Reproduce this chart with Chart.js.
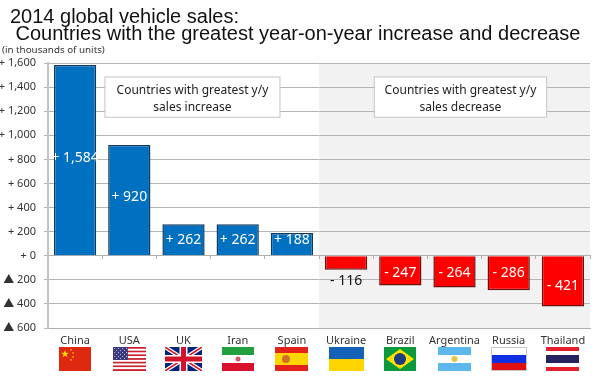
<!DOCTYPE html>
<html>
<head>
<meta charset="utf-8">
<title>2014 global vehicle sales</title>
<script src="https://cdn.jsdelivr.net/npm/chart.js@4/dist/chart.umd.min.js"></script>
<style>
  html, body { margin: 0; padding: 0; background: #fff; }
  canvas { display: block; }
</style>
</head>
<body>
<canvas id="salesChart" width="600" height="379"></canvas>
<script>
// --- Data ---
const countries = ["China", "USA", "UK", "Iran", "Spain", "Ukraine", "Brazil", "Argentina", "Russia", "Thailand"];
const salesChange = [1584, 920, 262, 262, 188, -116, -247, -264, -286, -421];
const valueLabels = ["+ 1,584", "+ 920", "+ 262", "+ 262", "+ 188", "- 116", "- 247", "- 264", "- 286", "- 421"];
const titleLines = ["2014 global vehicle sales:", " Countries with the greatest year-on-year increase and decrease"];
const unitNote = "(in thousands of units)";
const increaseNote = ["Countries with greatest y/y", "sales increase"];
const decreaseNote = ["Countries with greatest y/y", "sales decrease"];

const TICK_FONT = '"Noto Sans", "Noto Sans CJK JP", sans-serif';

// --- Flags ---
function stripes(ctx, x, y, w, h, colors, weights) {
    const total = weights.reduce((a, b) => a + b, 0);
    let top = y;
    colors.forEach((color, i) => {
        const sh = h * weights[i] / total;
        ctx.fillStyle = color;
        ctx.fillRect(x, top, w, sh);
        top += sh;
    });
}

function star(ctx, cx, cy, r) {
    ctx.beginPath();
    for (let i = 0; i < 10; i++) {
        const rad = i % 2 ? r * 0.4 : r;
        const a = -Math.PI / 2 + i * Math.PI / 5;
        ctx.lineTo(cx + rad * Math.cos(a), cy + rad * Math.sin(a));
    }
    ctx.closePath();
    ctx.fill();
}

// width of each flag image, they are not all the same in the picture
const flagWidth = { China: 32, USA: 33, UK: 37, Iran: 32, Spain: 33, Ukraine: 35, Brazil: 32, Argentina: 33, Russia: 36, Thailand: 33 };

const flagPainters = {
    China(ctx, x, y, w, h) {
        ctx.fillStyle = "#de2910";
        ctx.fillRect(x, y, w, h);
        ctx.fillStyle = "#ffde00";
        star(ctx, x + 6, y + 7, 4);
        [[12, 3], [14, 6], [14, 10], [12, 13]].forEach(p => star(ctx, x + p[0], y + p[1], 1.2));
    },
    USA(ctx, x, y, w, h) {
        const colors = [];
        for (let i = 0; i < 13; i++) colors.push(i % 2 ? "#fff" : "#c8202f");
        stripes(ctx, x, y, w, h, colors, colors.map(() => 1));
        ctx.fillStyle = "#3c3b7e";
        ctx.fillRect(x, y, w * 0.45, h * 0.54);
        ctx.fillStyle = "#a9aed0";
        for (let r = 0; r < 6; r++) {
            for (let c = 0; c < 7; c++) {
                if ((r + c) % 2 === 0) ctx.fillRect(x + 1 + c * 2, y + 1 + r * 2, 1, 1);
            }
        }
    },
    UK(ctx, x, y, w, h) {
        ctx.fillStyle = "#00247d";
        ctx.fillRect(x, y, w, h);
        ctx.save();
        ctx.beginPath();
        ctx.rect(x, y, w, h);
        ctx.clip();
        ctx.strokeStyle = "#fff";
        ctx.lineWidth = 4;
        ctx.beginPath();
        ctx.moveTo(x, y); ctx.lineTo(x + w, y + h);
        ctx.moveTo(x + w, y); ctx.lineTo(x, y + h);
        ctx.stroke();
        ctx.strokeStyle = "#cf142b";
        ctx.lineWidth = 1.5;
        ctx.stroke();
        ctx.restore();
        ctx.fillStyle = "#fff";
        ctx.fillRect(x, y + h / 2 - 4, w, 8);
        ctx.fillRect(x + w / 2 - 4, y, 8, h);
        ctx.fillStyle = "#cf142b";
        ctx.fillRect(x, y + h / 2 - 2.5, w, 5);
        ctx.fillRect(x + w / 2 - 2.5, y, 5, h);
    },
    Iran(ctx, x, y, w, h) {
        stripes(ctx, x, y, w, h, ["#239f40", "#fff", "#d8112c"], [1, 1, 1]);
        ctx.fillStyle = "#d8566a";
        ctx.beginPath();
        ctx.arc(x + w / 2, y + h / 2, 2.5, 0, Math.PI * 2);
        ctx.fill();
    },
    Spain(ctx, x, y, w, h) {
        stripes(ctx, x, y, w, h, ["#e3211c", "#ffd500", "#e3211c"], [1, 2, 1]);
        ctx.fillStyle = "#d0702a";
        ctx.beginPath();
        ctx.arc(x + 11, y + h / 2, 4, 0, Math.PI * 2);
        ctx.fill();
    },
    Ukraine(ctx, x, y, w, h) {
        stripes(ctx, x, y, w, h, ["#1561b8", "#ffd500"], [1, 1]);
    },
    Brazil(ctx, x, y, w, h) {
        ctx.fillStyle = "#0a9a3c";
        ctx.fillRect(x, y, w, h);
        ctx.fillStyle = "#ffdf00";
        ctx.beginPath();
        ctx.moveTo(x + 2, y + h / 2);
        ctx.lineTo(x + w / 2, y + 2);
        ctx.lineTo(x + w - 2, y + h / 2);
        ctx.lineTo(x + w / 2, y + h - 2);
        ctx.closePath();
        ctx.fill();
        ctx.fillStyle = "#1b3a80";
        ctx.beginPath();
        ctx.arc(x + w / 2, y + h / 2, 6, 0, Math.PI * 2);
        ctx.fill();
    },
    Argentina(ctx, x, y, w, h) {
        stripes(ctx, x, y, w, h, ["#5cb8ea", "#fff", "#5cb8ea"], [1, 1, 1]);
        ctx.fillStyle = "#e8c33c";
        ctx.beginPath();
        ctx.arc(x + w / 2, y + h / 2, 3, 0, Math.PI * 2);
        ctx.fill();
    },
    Russia(ctx, x, y, w, h) {
        stripes(ctx, x, y, w, h, ["#fff", "#0f2fe0", "#e01010"], [1, 1, 1]);
        ctx.strokeStyle = "#c8c8c8";
        ctx.strokeRect(x + 0.5, y + 0.5, w - 1, h - 1);
    },
    Thailand(ctx, x, y, w, h) {
        stripes(ctx, x, y, w, h, ["#e3202c", "#fff", "#27235f", "#fff", "#e3202c"], [1, 1, 2, 1, 1]);
    }
};

// --- Plugins ---
// Gray panel behind the decreasing countries
const decreasePanel = {
    id: "decreasePanel",
    beforeDraw(chart) {
        const { ctx, chartArea, scales } = chart;
        const left = scales.x.getPixelForValue(4.5);
        ctx.save();
        ctx.fillStyle = "#f2f2f2";
        ctx.fillRect(left, chartArea.top, chartArea.right - left, chartArea.bottom - chartArea.top);
        ctx.restore();
    }
};

function noteBox(chart, lines, from, to) {
    const { ctx, scales } = chart;
    const left = scales.x.getPixelForValue(from);
    const right = scales.x.getPixelForValue(to);
    const top = scales.y.getPixelForValue(1484);
    const bottom = scales.y.getPixelForValue(1150);
    ctx.fillStyle = "#fff";
    ctx.strokeStyle = "#c4c4c4";
    ctx.lineWidth = 1;
    ctx.fillRect(left, top, right - left, bottom - top);
    ctx.strokeRect(left, top, right - left, bottom - top);
    ctx.fillStyle = "#222";
    ctx.font = "12px " + TICK_FONT;
    ctx.textAlign = "center";
    ctx.textBaseline = "middle";
    lines.forEach((line, i) => ctx.fillText(line, (left + right) / 2, top + 14 + i * 16.5));
}

const annotations = {
    id: "annotations",
    afterDatasetsDraw(chart) {
        const { ctx, scales } = chart;
        ctx.save();

        noteBox(chart, increaseNote, 0.55, 3.78);
        noteBox(chart, decreaseNote, 5.52, 8.7);

        // value labels on the bars, nudged by hand like in the original
        const nudge = { China: -2, USA: -3, Spain: -4, Brazil: 2, Argentina: 1, Thailand: 5 };
        ctx.textAlign = "center";
        ctx.textBaseline = "middle";
        ctx.font = "14px " + TICK_FONT;
        const bars = chart.getDatasetMeta(0).data;
        bars.forEach((bar, i) => {
            const small = salesChange[i] === -116;
            ctx.fillStyle = small ? "#111" : "#fff";
            const y = small ? bar.y + 11 : (bar.y + bar.base) / 2 + (nudge[countries[i]] || 0);
            ctx.fillText(valueLabels[i], bar.x, y);
        });

        // headline and unit note
        ctx.textAlign = "left";
        ctx.textBaseline = "alphabetic";
        ctx.fillStyle = "#111";
        ctx.font = '20px "Liberation Sans", Arial, sans-serif';
        ctx.fillText(titleLines[0], 10, 23);
        ctx.fillText(titleLines[1], 10, 40);
        ctx.font = "9.8px " + TICK_FONT;
        ctx.fillStyle = "#333";
        ctx.fillText(unitNote, 2, 53);

        // flags under the country names
        countries.forEach((name, i) => {
            const cx = scales.x.getPixelForValue(i);
            const w = flagWidth[name];
            flagPainters[name](ctx, Math.round(cx - w / 2), 347, w, 24);
        });
        ctx.restore();
    }
};

// --- Chart ---
const salesChart = new Chart(document.getElementById("salesChart").getContext("2d"), {
    type: "bar",
    data: {
        labels: countries,
        datasets: [{
            data: salesChange,
            backgroundColor: salesChange.map(v => v >= 0 ? "#0070c0" : "#ff0000"),
            borderColor: salesChange.map(v => v >= 0 ? "#123a5e" : "#6a1010"),
            borderWidth: 1.5,
            categoryPercentage: 1,
            barPercentage: 0.78
        }]
    },
    options: {
        responsive: false,
        animation: false,
        layout: { padding: { top: 63, right: 10, bottom: 0, left: 0 } },
        plugins: { legend: { display: false }, tooltip: { enabled: false } },
        scales: {
            x: {
                type: "category",
                position: "bottom",
                afterFit(scale) { scale.height = 51; },
                grid: { display: false, drawTicks: false },
                border: { color: "#b0b0b0" },
                ticks: { color: "#333", padding: 6, font: { family: TICK_FONT, size: 11 }, maxRotation: 0, autoSkip: false }
            },
            zeroAxis: {
                type: "category",
                labels: countries,
                axis: "x",
                position: { y: 0 },
                offset: true,
                grid: { drawOnChartArea: false, drawTicks: true, tickLength: 3, color: "#b0b0b0", offset: true },
                border: { color: "#b0b0b0" },
                ticks: { display: false }
            },
            y: {
                min: -600,
                max: 1600,
                afterFit(scale) { scale.width = 48; },
                grid: { color: "#b5b5b5", tickLength: 4 },
                border: { color: "#c4c4c4", width: 2 },
                ticks: {
                    stepSize: 200,
                    padding: 8,
                    color: "#333",
                    font: { family: TICK_FONT, size: 11 },
                    callback(v) {
                        return v >= 0 ? "+ " + v.toLocaleString("en-US") : "▲ " + Math.abs(v);
                    }
                }
            }
        }
    },
    plugins: [decreasePanel, annotations]
});
</script>
</body>
</html>
